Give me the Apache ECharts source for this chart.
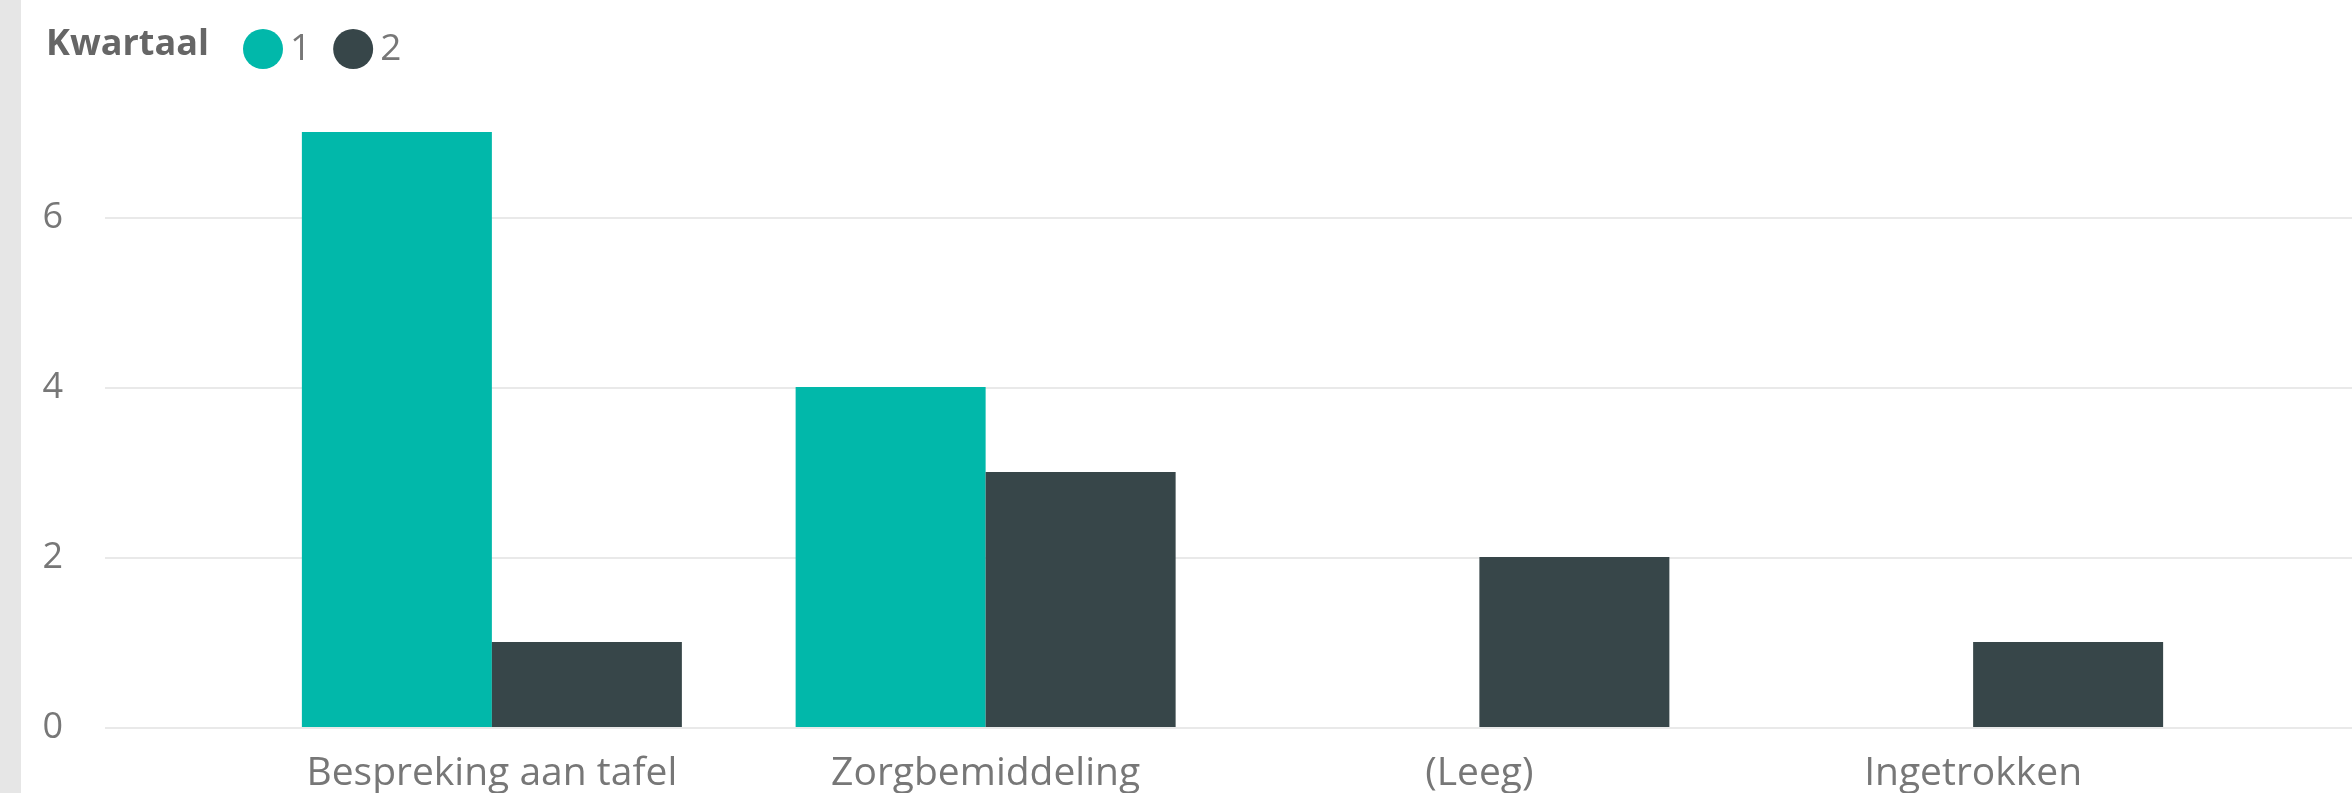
<!DOCTYPE html>
<html lang="nl">
<head>
    <meta charset="UTF-8">
    <title>Kwartaal</title>
    <script type="text/javascript" src="https://cdn.jsdelivr.net/npm/echarts@6/dist/echarts.min.js"></script>
    <style>
        html, body { margin: 0; padding: 0; background: #fff; }
        #chart { width: 2352px; height: 793px; }
    </style>
</head>
<body>
<div id="chart"></div>
<script type="text/javascript">
    // data
    var categories = ['Bespreking aan tafel', 'Zorgbemiddeling', '(Leeg)', 'Ingetrokken'];
    var kwartaal1 = [7, 4, null, null];
    var kwartaal2 = [1, 3, 2, 1];
    var seriesNames = ['1', '2'];
    var yTicks = [0, 2, 4, 6];

    var font = '"Open Sans", "Noto Sans", sans-serif';
    var yMax = 8;

    var myChart = echarts.init(document.getElementById('chart'));
    var option = {
        animation: false,
        backgroundColor: '#fff',
        color: ['#01B8AA', '#374649'],
        graphic: [{
            type: 'rect',
            left: 0, top: 0,
            shape: { width: 21, height: 793 },
            style: { fill: '#e6e6e6' }
        }],
        title: {
            text: 'Kwartaal',
            left: 41, top: 22,
            textStyle: { fontFamily: font, fontSize: 36, fontWeight: 'bold', color: '#666' }
        },
        legend: {
            data: seriesNames,
            left: 238, top: 24,
            icon: 'circle',
            itemWidth: 40, itemHeight: 40,
            itemGap: 22,
            textStyle: { fontFamily: font, fontSize: 37, color: '#777', padding: [0, 0, 0, 2] }
        },
        grid: [
            // grid for gridlines + y labels (full width)
            { left: 105, right: 0, top: 47, bottom: 65 },
            // grid for the bars
            { left: 245, right: 132, top: 47, bottom: 65 }
        ],
        xAxis: [
            { gridIndex: 0, type: 'value', show: false },
            {
                gridIndex: 1, type: 'category', data: categories,
                axisLine: { show: false }, axisTick: { show: false },
                axisLabel: { interval: 0, fontFamily: font, fontSize: 39, color: '#777', margin: 27 }
            }
        ],
        yAxis: [
            {
                gridIndex: 0, type: 'value', min: 0, max: yMax, interval: 2,
                axisLine: { show: false }, axisTick: { show: false },
                axisLabel: {
                    fontFamily: font, fontSize: 36, color: '#777', margin: 42,
                    showMaxLabel: false,
                    formatter: function (v) { return yTicks.indexOf(v) >= 0 ? v : ''; }
                },
                splitLine: { showMaxLine: false, lineStyle: { color: '#e9e9e9', width: 2 } }
            },
            {
                gridIndex: 1, type: 'value', min: 0, max: yMax, interval: 2,
                show: false, splitLine: { show: false }
            }
        ],
        series: [
            {
                name: seriesNames[0], type: 'bar', data: kwartaal1,
                xAxisIndex: 1, yAxisIndex: 1,
                barWidth: 190, barGap: '0%'
            },
            {
                name: seriesNames[1], type: 'bar', data: kwartaal2,
                xAxisIndex: 1, yAxisIndex: 1,
                barWidth: 190, barGap: '0%'
            }
        ]
    };
    myChart.setOption(option);
</script>
</body>
</html>
